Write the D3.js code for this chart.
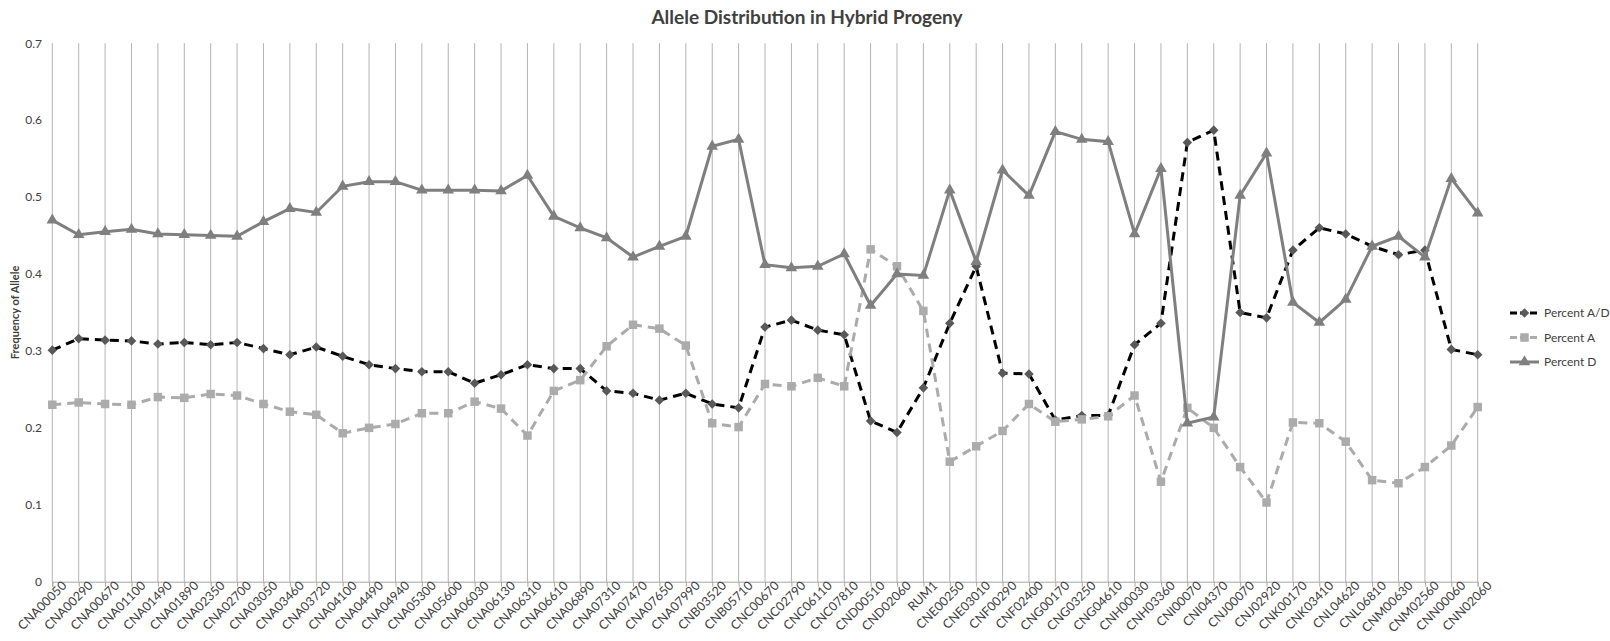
<!DOCTYPE html>
<html>
<head>
<meta charset="utf-8">
<script src="https://cdn.jsdelivr.net/npm/d3@7"></script>
<style>
    body { margin: 0; background: #fff; }
    text { font-family: Lato, "Open Sans", sans-serif; fill: #404040; }
</style>
</head>
<body>
<div id="viz"></div>
<script>
// categorie (ceppi) sull'asse x
var strains = ["CNA00050","CNA00290","CNA00670","CNA01100","CNA01490","CNA01890","CNA02350","CNA02700","CNA03050","CNA03460","CNA03720",
    "CNA04100","CNA04490","CNA04940","CNA05300","CNA05600","CNA06030","CNA06130","CNA06310","CNA06610","CNA06890","CNA07310",
    "CNA07470","CNA07650","CNA07990","CNB03520","CNB05710","CNC00670","CNC02790","CNC06110","CNC07810","CND00510","CND02060",
    "RUM1","CNE00250","CNE03010","CNF00290","CNF02400","CNG00170","CNG03250","CNG04610","CNH00030","CNH03360","CNI00070",
    "CNI04370","CNJ00070","CNJ02920","CNK00170","CNK03410","CNL04620","CNL06810","CNM00630","CNM02560","CNN00060","CNN02060"];

var percentAD = [0.301,0.316,0.314,0.313,0.309,0.311,0.308,0.311,0.303,0.295,0.305,
    0.293,0.282,0.277,0.273,0.273,0.258,0.269,0.282,0.277,0.277,0.248,
    0.245,0.236,0.245,0.231,0.226,0.331,0.340,0.327,0.321,0.209,0.194,
    0.252,0.336,0.410,0.271,0.270,0.210,0.216,0.216,0.308,0.336,0.571,
    0.587,0.350,0.343,0.431,0.460,0.452,0.436,0.425,0.431,0.302,0.295];

var percentA = [0.230,0.233,0.231,0.230,0.240,0.239,0.244,0.242,0.231,0.221,0.217,
    0.193,0.200,0.205,0.219,0.219,0.234,0.225,0.190,0.248,0.262,0.306,
    0.334,0.329,0.307,0.206,0.201,0.257,0.254,0.265,0.254,0.432,0.410,
    0.352,0.156,0.176,0.196,0.231,0.208,0.211,0.215,0.242,0.130,0.226,
    0.200,0.149,0.103,0.207,0.206,0.182,0.132,0.128,0.149,0.177,0.227];

var percentD = [0.470,0.451,0.455,0.458,0.452,0.451,0.450,0.449,0.468,0.485,0.480,
    0.514,0.520,0.520,0.509,0.509,0.509,0.508,0.528,0.475,0.460,0.447,
    0.422,0.436,0.449,0.566,0.575,0.412,0.408,0.410,0.426,0.359,0.400,
    0.398,0.509,0.416,0.535,0.502,0.585,0.575,0.572,0.452,0.537,0.206,
    0.214,0.502,0.557,0.363,0.337,0.367,0.436,0.449,0.422,0.524,0.479];

var seriesNames = ["Percent A/D","Percent A","Percent D"];
var yTicks = [0,0.1,0.2,0.3,0.4,0.5,0.6,0.7];

var svg = d3.select("#viz")
    .append("svg")
    .attr("width",1610)
    .attr("height",641);

var x = d3.scalePoint()
    .domain(strains)
    .range([52.3,1477.7]);

var y = d3.scaleLinear()
    .domain([0,0.7])
    .range([581.7,43.2]);

// titolo
svg.append("text")
    .attr("x",807)
    .attr("y",24)
    .attr("text-anchor","middle")
    .style("font-size","19px")
    .style("font-weight","bold")
    .text("Allele Distribution in Hybrid Progeny");

// griglia verticale, una linea per ogni ceppo
svg.append("g")
    .selectAll("line")
    .data(strains)
    .enter()
    .append("line")
    .attr("x1",function(d){return x(d);})
    .attr("x2",function(d){return x(d);})
    .attr("y1",y(0.7))
    .attr("y2",y(0))
    .attr("stroke","#b3b3b3")
    .attr("stroke-width",1);

// asse x
var xAxis = svg.append("g")
    .attr("transform","translate(0,"+y(0)+")")
    .call(d3.axisBottom(x).tickSize(5).tickPadding(3));
xAxis.select(".domain").attr("stroke","#a6a6a6");
xAxis.selectAll(".tick line").attr("stroke","#a6a6a6");
xAxis.selectAll(".tick text")
    .attr("text-anchor","end")
    .attr("dx","0.55em")
    .attr("dy","0.45em")
    .attr("transform","rotate(-45)")
    .style("font-size","12.5px")
    .style("fill","#404040");

// asse y (solo etichette)
var yAxis = svg.append("g")
    .attr("transform","translate(44,0)")
    .call(d3.axisLeft(y).tickValues(yTicks).tickFormat(function(d){return d===0 ? "0" : d3.format(".1f")(d);}).tickSize(0).tickPadding(2));
yAxis.select(".domain").remove();
yAxis.selectAll("text")
    .style("font-size","12px")
    .style("fill","#404040");

svg.append("text")
    .attr("transform","translate(19,"+((y(0)+y(0.7))/2)+") rotate(-90)")
    .attr("text-anchor","middle")
    .style("font-size","11px")
    .style("font-weight","bold")
    .text("Frequency of Allele");

var styles = [
    {values: percentAD, stroke: "#000000", dash: "9,6", fill: "#595959", symbol: "diamond"},
    {values: percentA, stroke: "#ababab", dash: "9,6", fill: "#ababab", symbol: "square"},
    {values: percentD, stroke: "#7f7f7f", dash: null, fill: "#7f7f7f", symbol: "triangle"}
];

function symbolPath(name){
    if (name === "diamond") return d3.symbol().type(d3.symbolSquare).size(46)();
    if (name === "square") return d3.symbol().type(d3.symbolSquare).size(72)();
    return d3.symbol().type(d3.symbolTriangle).size(58)();
}

var line = d3.line()
    .x(function(d,i){return x(strains[i]);})
    .y(function(d){return y(d);});

styles.forEach(function(s){
    var g = svg.append("g");
    g.append("path")
        .attr("d",line(s.values))
        .attr("fill","none")
        .attr("stroke",s.stroke)
        .attr("stroke-width",3)
        .attr("stroke-dasharray",s.dash);
    g.selectAll("path.mark")
        .data(s.values)
        .enter()
        .append("path")
        .attr("class","mark")
        .attr("d",symbolPath(s.symbol))
        .attr("fill",s.fill)
        .attr("transform",function(d,i){
            var t = "translate("+x(strains[i])+","+y(d)+")";
            return s.symbol === "diamond" ? t+" rotate(45)" : t;
        });
});

// legenda
var legend = svg.selectAll("g.legend")
    .data(seriesNames)
    .enter()
    .append("g")
    .attr("class","legend")
    .attr("transform",function(d,i){return "translate(1510,"+(313+i*24.5)+")";});
legend.append("line")
    .attr("x2",29)
    .attr("stroke",function(d,i){return styles[i].stroke;})
    .attr("stroke-width",3)
    .attr("stroke-dasharray",function(d,i){return styles[i].dash ? "7,3" : null;});
legend.append("path")
    .attr("d",function(d,i){return symbolPath(styles[i].symbol);})
    .attr("fill",function(d,i){return styles[i].fill;})
    .attr("transform",function(d,i){return styles[i].symbol === "diamond" ? "translate(14.5,0) rotate(45)" : "translate(14.5,0)";});
legend.append("text")
    .attr("x",34)
    .attr("dy","0.35em")
    .style("font-size","12px")
    .text(function(d){return d;});
</script>
</body>
</html>
